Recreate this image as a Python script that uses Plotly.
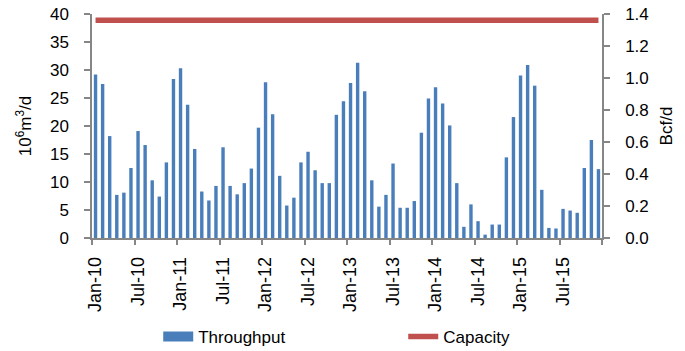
import pandas as pd
import plotly.graph_objects as go

months = [d.strftime("%b-%y") for d in pd.date_range("2010-01-01", "2015-12-01", freq="MS")]

throughput = [
    29.2, 27.5, 18.2, 7.7, 8.1, 12.5, 19.1, 16.6, 10.3, 7.4, 13.5, 28.4,
    30.3, 23.8, 15.9, 8.3, 6.7, 9.3, 16.2, 9.3, 7.8, 9.8, 12.4, 19.7,
    27.8, 22.1, 11.1, 5.8, 7.2, 13.5, 15.4, 12.1, 9.8, 9.8, 22.0, 24.4,
    27.7, 31.3, 26.2, 10.3, 5.6, 7.7, 13.3, 5.4, 5.4, 6.6, 18.8, 24.9,
    26.9, 24.0, 20.1, 9.8, 2.0, 6.0, 3.0, 0.6, 2.4, 2.4, 14.4, 21.6,
    29.0, 30.9, 27.2, 8.6, 1.8, 1.7, 5.2, 4.9, 4.5, 12.5, 17.5, 12.3,
]
capacity = [38.9] * len(months)

left_ticks = [0, 5, 10, 15, 20, 25, 30, 35, 40]
right_ticks = [0.0, 0.2, 0.4, 0.6, 0.8, 1.0, 1.2, 1.4]

BLUE = "#4A7EBB"
RED = "#C0504D"
AX = "#868686"
FONT = "Liberation Sans, Arial, sans-serif"

fig = go.Figure()
fig.add_trace(go.Bar(x=months, y=throughput, marker_color=BLUE, marker_line_width=0,
                     showlegend=False, name="Throughput"))
fig.add_trace(go.Scatter(x=[None], y=[None], mode="lines", name="Throughput",
                         line=dict(color=BLUE, width=10)))
fig.add_trace(go.Scatter(x=months, y=capacity, mode="lines", name="Capacity",
                         line=dict(color=RED, width=5.5)))
fig.add_trace(go.Scatter(x=[months[0]], y=[0], yaxis="y2", mode="markers",
                         marker=dict(opacity=0), showlegend=False, hoverinfo="skip"))

fig.update_layout(
    width=685, height=351,
    margin=dict(l=92, r=83, t=14, b=113, autoexpand=False),
    paper_bgcolor="white", plot_bgcolor="white",
    font=dict(family=FONT, size=17, color="#000000"),
    bargap=0.52,
    xaxis=dict(
        type="category", range=[-0.5, len(months) - 0.5], automargin=False,
        tickmode="linear", tick0=0, dtick=6, tickson="boundaries",
        tickangle=-90, ticks="outside", ticklen=5, tickcolor=AX, tickwidth=1.5,
        showline=True, linecolor=AX, linewidth=1.5, showgrid=False,
        ticklabelstandoff=10,
        tickfont=dict(size=18),
    ),
    yaxis=dict(
        range=[0, 40], tickvals=left_ticks, ticks="outside", ticklen=6, automargin=False,
        tickcolor=AX, tickwidth=1.5, showline=True, linecolor=AX, linewidth=1.5,
        showgrid=False, zeroline=False, ticklabelstandoff=12,
        title=dict(text="10<sup>6</sup>m<sup>3</sup>/d", standoff=14, font=dict(size=17)),
    ),
    yaxis2=dict(
        overlaying="y", side="right", range=[0, 1.4], tickvals=right_ticks, automargin=False,
        tickformat=".1f", ticks="outside", ticklen=6, tickcolor=AX, tickwidth=1.5,
        showline=True, linecolor=AX, linewidth=1.5, showgrid=False, zeroline=False,
        ticklabelstandoff=12,
        title=dict(text="Bcf/d", standoff=12, font=dict(size=17)),
    ),
    legend=dict(orientation="h", x=0.231, xref="container", xanchor="left",
                y=0.04, yref="container", yanchor="middle",
                entrywidth=200, entrywidthmode="pixels", font=dict(size=17),
                bgcolor="rgba(0,0,0,0)"),
)

fig.write_html("out.html")
